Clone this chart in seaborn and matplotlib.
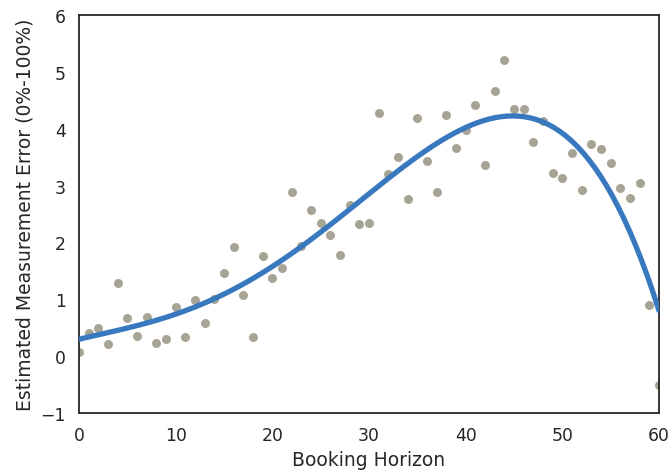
import numpy as np
import pandas as pd
import matplotlib
matplotlib.use("Agg")
import matplotlib.pyplot as plt
import seaborn as sns

# Booking horizon (days) and the estimated measurement error at each
horizon = list(range(61))
error = [0.07, 0.40, 0.49, 0.21, 1.28, 0.67, 0.35, 0.69, 0.23, 0.30,
         0.86, 0.33, 0.98, 0.58, 1.00, 1.46, 1.92, 1.07, 0.33, 1.76,
         1.37, 1.55, 2.88, 1.93, 2.57, 2.34, 2.13, 1.78, 2.65, 2.32,
         2.34, 4.27, 3.20, 3.51, 2.76, 4.18, 3.43, 2.88, 4.24, 3.66,
         3.97, 4.41, 3.36, 4.66, 5.20, 4.34, 4.34, 3.76, 4.13, 3.22,
         3.13, 3.57, 2.92, 3.73, 3.64, 3.39, 2.95, 2.78, 3.04, 0.90,
         -0.51]

df = pd.DataFrame({"Booking Horizon": horizon,
                   "Estimated Measurement Error (0%-100%)": error})

sns.set_style("white")
sns.set_context("notebook", font_scale=1.125)
plt.rcParams["font.family"] = ["DejaVu Sans"]

fig = plt.figure(figsize=(6.7, 4.77), dpi=100)
ax = fig.add_axes([0.118, 0.132, 0.8656, 0.8345])

sns.regplot(data=df, x="Booking Horizon",
            y="Estimated Measurement Error (0%-100%)",
            order=4, ci=None, ax=ax, truncate=True,
            scatter_kws={"color": "#a8a495", "s": 42, "alpha": 1,
                         "linewidths": 0, "zorder": 2},
            line_kws={"color": "#3778bf", "lw": 3.8, "zorder": 3})

ax.set_xlim(0, 60)
ax.set_ylim(-1, 6)
ax.set_xticks(range(0, 61, 10))
ax.set_yticks(range(-1, 7))
for s in ax.spines.values():
    s.set_color("#262626")
    s.set_linewidth(1.3)

fig.savefig("out.png", dpi=100)
